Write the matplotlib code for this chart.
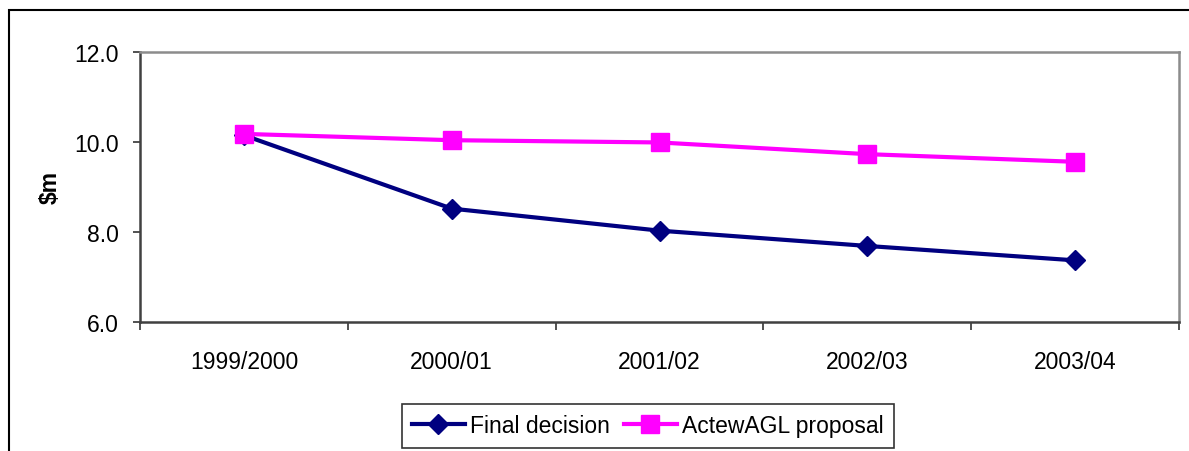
import matplotlib
matplotlib.use('Agg')
import matplotlib.pyplot as plt
from matplotlib.patches import Rectangle
import numpy as np

# Data
years = ['1999/2000', '2000/01', '2001/02', '2002/03', '2003/04']
final_decision = [10.15, 8.52, 8.03, 7.69, 7.37]
actewagl_proposal = [10.18, 10.04, 9.99, 9.73, 9.56]

W, H = 1189, 452
plt.rcParams['font.family'] = ['Liberation Sans', 'DejaVu Sans']
FS = 16.5

fig = plt.figure(figsize=(W / 100, H / 100), dpi=100)
ax = fig.add_axes([140 / W, (H - 323) / H, 1039 / W, 270 / H])

x = np.arange(len(years))
ax.plot(x, final_decision, color='#000080', lw=3, marker='D', ms=10,
        label='Final decision', zorder=3)
ax.plot(x, actewagl_proposal, color='#FF00FF', lw=3, marker='s', ms=13,
        label='ActewAGL proposal', zorder=4)

ax.set_ylim(6, 12)
ax.set_yticks([6, 8, 10, 12])
ax.set_yticklabels([f'{v:.1f}' for v in [6, 8, 10, 12]], fontsize=FS)
ax.set_xlim(-0.5, len(years) - 0.5)
ax.set_xticks(x)
ax.set_xticklabels(years, fontsize=FS)
ax.set_xticks(np.arange(-0.5, len(years)), minor=True)
ax.tick_params(axis='x', which='major', length=0, pad=20)
ax.tick_params(axis='x', which='minor', length=6, width=1.2, color='#333333', direction='out')
ax.tick_params(axis='y', length=5, width=1.2, color='#333333', pad=10)

for side in ['left', 'bottom']:
    ax.spines[side].set_color('#404040')
    ax.spines[side].set_linewidth(1.8)
for side in ['top', 'right']:
    ax.spines[side].set_color('#8c8c8c')
    ax.spines[side].set_linewidth(1.8)

fig.text(50 / W, 1 - 188 / H, '$m', rotation=90, ha='center', va='center',
         fontsize=FS, fontweight='bold')

leg = fig.legend(loc='center', bbox_to_anchor=(648 / W, 1 - 427 / H), ncol=2,
                 fontsize=FS, frameon=True, fancybox=False, handlelength=2.3,
                 handletextpad=0.25, columnspacing=0.6, borderpad=0.45,
                 borderaxespad=0)
leg.get_frame().set_edgecolor('black')
leg.get_frame().set_linewidth(1.2)

# outer chart border (runs off the right and bottom of the image)
fig.patches.append(Rectangle((9 / W, -0.1), 1.2, (H - 11) / H + 0.1,
                             transform=fig.transFigure, fill=False,
                             edgecolor='black', lw=1.5, clip_on=False))

fig.savefig('out.png', dpi=100)
